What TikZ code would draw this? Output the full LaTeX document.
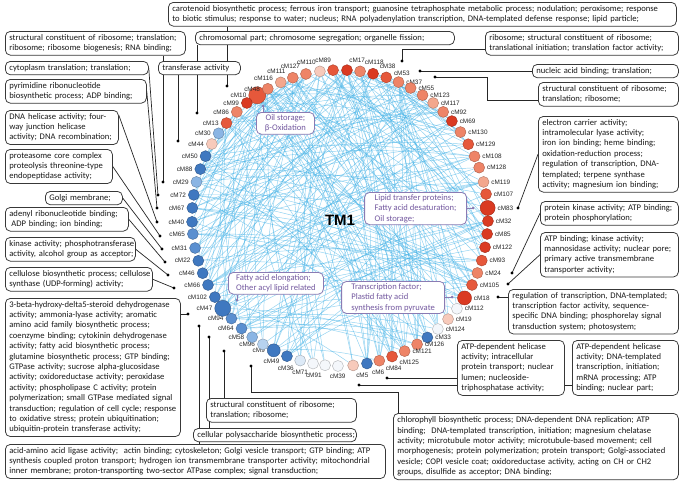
\documentclass[tikz,border=0pt]{standalone}
\usepackage{fontspec}
\setmainfont{Carlito}
\newfontfamily\lbfont{Liberation Sans}
\usetikzlibrary{calc,backgrounds}
\definecolor{R1}{HTML}{DA3A22}
\definecolor{R2}{HTML}{E6583B}
\definecolor{R3}{HTML}{EE8467}
\definecolor{R4}{HTML}{F3A78D}
\definecolor{P1}{HTML}{F7CABB}
\definecolor{W}{HTML}{F4F7FB}
\definecolor{B1}{HTML}{3F78C0}
\definecolor{B2}{HTML}{5A8FD0}
\definecolor{B3}{HTML}{8AB5E4}
\definecolor{B4}{HTML}{B6D2EF}
\definecolor{B5}{HTML}{DDEAF7}
\definecolor{edgec}{HTML}{44B3E8}
\definecolor{annb}{HTML}{8A7BB3}
\definecolor{annt}{HTML}{73589F}
\newcommand{\lns}[1]{\noindent\begin{tabular}{@{}l@{}}#1\end{tabular}}
\newcommand{\edgeset}[3]{\foreach \ea in {#1}{\foreach \eb in {#2}{%
  \pgfmathtruncatemacro\edgeok{rnd<#3?1:0}%
  \ifnum\edgeok=1 \draw[edge] (\ea) to[bend left=8] (\eb);\fi}}}
\tikzset{
  box/.style={draw=black!78, line width=0.75pt, rounded corners=5pt, fill=white,
    inner xsep=4pt, inner ysep=1.5pt, anchor=north west,
    font=\fontsize{8.6}{10.4}\selectfont, text=black!90},
  ann/.style={draw=annb, line width=0.8pt, rounded corners=5pt, fill=white,
    inner xsep=4pt, inner ysep=2pt, align=left, text=annt,
    font=\fontsize{8.6}{10.4}\selectfont},
  mod/.style={circle, inner sep=0pt, line width=0.4pt},
  lbl/.style={font=\lbfont\fontsize{6.4}{7.5}\selectfont, text=black!85, inner sep=0.8pt},
  edge/.style={draw=edgec, line width=0.45pt, opacity=0.6},
  conn/.style={draw=black!85, line width=0.7pt},
  annl/.style={draw=annb, line width=0.8pt},
}
\begin{document}
\begin{tikzpicture}[x=1pt,y=1pt]
\useasboundingbox (0,0) rectangle (683,-482);
\coordinate (C) at (340,-218);
% ---------------- module nodes on the ring
\foreach \nm/\ang/\col/\sz in {cM10/124.0/R2/17, cM48/119.2/R3/11, cM116/113.6/R4/11, cM111/108.6/R3/11, cM127/103.3/R3/11, cM110/97.8/P1/11, cM89/92.7/R2/11, cM17/87.3/R1/11, cM118/82.2/R3/11, cM38/77.1/R1/11, cM53/71.8/R2/11, cM37/66.7/R3/11, cM55/61.5/R3/11, cM123/56.1/R3/11, cM117/51.0/R4/11, cM92/45.8/R3/11, cM69/40.9/R1/11, cM130/35.5/R3/11, cM129/29.9/R2/11, cM108/24.6/R3/11, cM128/19.9/R3/11, cM119/14.1/R4/11, cM107/9.3/R2/11, cM83/3.9/R1/15, cM32/-1.2/R1/11, cM85/-6.2/R1/11, cM122/-11.4/R1/11, cM93/-16.7/R2/11, cM24/-21.8/R3/11, cM105/-26.9/R2/11, cM18/-32.7/R1/14, cM112/-37.8/W/11, cM19/-43.1/P1/11, cM124/-48.6/W/11, cM33/-53.8/B1/11, cM126/-58.6/R3/11, cM121/-64.1/R3/11, cM125/-69.4/R2/11, cM84/-74.6/R3/11, cM6/-79.5/B1/11, cM5/-84.9/P1/11, cM39/-90.8/W/11, cM91/-95.8/W/11, cM71/-100.5/W/11, cM36/-105.6/B5/11, cM49/-111.0/B1/11, cM9/-116.6/B1/13, cM96/-121.4/B4/11, cM58/-126.4/B3/11, cM64/-131.7/B2/11, cM94/-137.2/B2/11, cM47/-142.4/B1/16, cM102/-147.7/B1/11, cM66/-153.1/B1/11, cM46/-158.1/B1/11, cM22/-163.2/B1/11, cM31/-168.3/B2/11, cM65/-173.8/B2/11, cM40/-178.5/B1/11, cM67/176.1/B1/11, cM72/171.0/B1/11, cM29/165.9/B3/11, cM88/160.7/B1/11, cM50/155.3/B1/11, cM44/150.0/P1/11, cM30/145.1/B3/11, cM13/140.1/R2/11, cM86/134.2/R3/11, cM99/129.0/R1/11}{%
  \pgfmathsetmacro\lang{\ang>=90 ? 90+min(90,3.5*(\ang-90)) : (\ang>=0 ? 90-min(90,4.3*(90-\ang)) : -90+max(-90,min(90,3.5*(\ang+90))))}
  \node[mod, fill=\col, draw=\col!72!black, minimum size=\sz pt,
        label={[lbl, label distance=1.2pt]\lang:\nm}] (\nm) at ($(C)+(\ang:148)$) {};
}
\node[font=\lbfont\bfseries\fontsize{15}{15}\selectfont] (tm) at (340,-220) {TM1};
% ---------------- GO term boxes
\node[box, text width=500pt] (carot) at (168,-2) {\lns{carotenoid biosynthetic process; ferrous iron transport; guanosine tetraphosphate metabolic process; nodulation; peroxisome; response\\to biotic stimulus; response to water; nucleus; RNA polyadenylation transcription, DNA-templated defense response; lipid particle;}};
\node[box, text width=251pt] (chrom) at (195,-31) {\lns{chromosomal part; chromosome segregation; organelle fission;}};
\node[box, text width=172pt] (ribo1) at (5,-31) {\lns{structural constituent of ribosome; translation;\\ribosome; ribosome biogenesis; RNA binding;}};
\node[box, text width=185pt] (ribo2) at (485,-31) {\lns{ribosome; structural constituent of ribosome;\\translational initiation; translation factor activity;}};
\node[box, text width=135pt] (cyto) at (5,-61) {\lns{cytoplasm translation; translation;}};
\node[box, text width=74pt] (trans) at (158,-61) {\lns{transferase activity}};
\node[box, text width=138pt] (nucl) at (532,-64) {\lns{nucleic acid binding; translation;}};
\node[box, text width=132pt] (ribo3) at (538,-82) {\lns{structural constituent of ribosome;\\translation; ribosome;}};
\node[box, text width=133pt] (pyr) at (5,-79) {\lns{pyrimidine ribonucleotide\\biosynthetic process; ADP binding;}};
\node[box, text width=105pt] (dna) at (5,-110) {\lns{DNA helicase activity; four-\\way junction helicase\\activity; DNA recombination;}};
\node[box, text width=132pt] (elec) at (538,-116) {\lns{electron carrier activity;\\intramolecular lyase activity;\\iron ion binding; heme binding;\\oxidation-reduction process;\\regulation of transcription, DNA-\\templated; terpene synthase\\activity; magnesium ion binding;}};
\node[box, text width=99pt] (prot) at (5,-149) {\lns{proteasome core complex\\proteolysis threonine-type\\endopeptidase activity;}};
\node[box, text width=69pt] (golgi) at (45,-191) {\lns{Golgi membrane;}};
\node[box, text width=115pt] (aden) at (5,-207) {\lns{adenyl ribonucleotide binding;\\\hspace*{2pt}ADP binding; ion binding;}};
\node[box, text width=130pt] (pk) at (540,-201) {\lns{protein kinase activity; ATP binding;\\protein phosphorylation;}};
\node[box, text width=122pt] (kin) at (5,-237) {\lns{kinase activity; phosphotransferase\\activity, alcohol group as acceptor;}};
\node[box, text width=130pt] (atp) at (540,-232) {\lns{ATP binding; kinase activity;\\mannosidase activity; nuclear pore;\\primary active transmembrane\\transporter activity;}};
\node[box, text width=139pt] (cell) at (5,-267) {\lns{cellulose biosynthetic process; cellulose\\synthase (UDP-forming) activity;}};
\node[box, text width=162pt] (reg) at (508,-289) {\lns{regulation of transcription, DNA-templated;\\transcription factor activity, sequence-\\specific DNA binding; phosphorelay signal\\transduction system; photosystem;}};
\node[box, text width=167pt] (beta) at (5,-298) {\lns{3-beta-hydroxy-delta5-steroid dehydrogenase\\activity; ammonia-lyase activity; aromatic\\amino acid family biosynthetic process;\\coenzyme binding; cytokinin dehydrogenase\\activity; fatty acid biosynthetic process;\\glutamine biosynthetic process; GTP binding;\\GTPase activity; sucrose alpha-glucosidase\\activity; oxidoreductase activity; peroxidase\\activity; phospholipase C activity; protein\\polymerization; small GTPase mediated signal\\transduction; regulation of cell cycle; response\\to oxidative stress; protein ubiquitination;\\ubiquitin-protein transferase activity;}};
\node[box, text width=99pt] (atpd1) at (457,-340) {\lns{ATP-dependent helicase\\activity; intracellular\\protein transport; nuclear\\lumen; nucleoside-\\triphosphatase activity;}};
\node[box, text width=98pt] (atpd2) at (572,-340) {\lns{ATP-dependent helicase\\activity; DNA-templated\\transcription, initiation;\\mRNA processing; ATP\\binding; nuclear part;}};
\node[box, text width=142pt] (ribo4) at (206,-398) {\lns{structural constituent of ribosome;\\translation; ribosome;}};
\node[box, text width=155pt] (cpoly) at (193,-428) {\lns{cellular polysaccharide biosynthetic process;}};
\node[box, text width=277pt, inner ysep=2pt] (chl) at (393,-413) {\lns{chlorophyll biosynthetic process; DNA-dependent DNA replication; ATP\\binding;\ \ DNA-templated transcription, initiation; magnesium chelatase\\activity; microtubule motor activity; microtubule-based movement; cell\\morphogenesis; protein polymerization; protein transport; Golgi-associated\\vesicle; COPI vesicle coat; oxidoreductase activity, acting on CH or CH2\\groups, disulfide as acceptor; DNA binding;}};
\node[box, text width=372pt] (acid) at (5,-444) {\lns{acid-amino acid ligase activity;\ \ actin binding; cytoskeleton; Golgi vesicle transport; GTP binding; ATP\\synthesis coupled proton transport; hydrogen ion transmembrane transporter activity; mitochondrial\\inner membrane; proton-transporting two-sector ATPase complex; signal transduction;}};
% ---------------- lipid annotations
\node[ann, align=center, anchor=north west, minimum width=58pt] (aoil) at (256,-112) {Oil storage;\\β-Oxidation};
\node[ann, anchor=north east, minimum width=102pt] (alip) at (467,-192) {Lipid transfer proteins;\\Fatty acid desaturation;\\Oil storage;};
\node[ann, anchor=north east, minimum width=103pt] (atf) at (445,-281) {Transcription factor;\\Plastid fatty acid\\synthesis from pyruvate};
\node[ann, anchor=north west, minimum width=95pt] (afat) at (228,-272) {Fatty acid elongation;\\Other acyl lipid related};
\coordinate (P10) at (263,-106);
\coordinate (P83) at (473,-208);
\coordinate (P18) at (452,-297);
\coordinate (P47) at (237,-300);
\draw[annl] (aoil.north -| P10) -- (P10);
\draw[annl] (alip.east |- P83) -- (P83);
\draw[annl] (atf.east |- P18) -- (P18);
\draw[annl] (afat.south -| P47) -- (P47);
\foreach \pp in {P10,P83,P18,P47} \fill[annb] (\pp) circle (1.5);
% ---------------- connector end points
\coordinate (D86) at (197,-113);
\coordinate (D10) at (227,-86);
\coordinate (D44) at (178,-141);
\coordinate (D29) at (163,-182);
\coordinate (D72) at (158,-195);
\coordinate (D67) at (157,-208);
\coordinate (D40) at (157,-222);
\coordinate (D65) at (160,-236);
\coordinate (D31) at (162,-249);
\coordinate (D22) at (165,-262);
\coordinate (D46) at (168,-275);
\coordinate (D66) at (174,-288);
\coordinate (D47) at (188,-314);
\coordinate (D94) at (199,-326);
\coordinate (D64) at (209,-337);
\coordinate (D58) at (224,-351);
\coordinate (D9) at (251,-366);
\coordinate (K9) at (398,-392);
\coordinate (D5) at (359,-385);
\coordinate (D84) at (387,-378);
\coordinate (D18) at (498,-297);
\coordinate (D105) at (508,-284);
\coordinate (D24) at (512,-273);
\coordinate (D83) at (518,-208);
\coordinate (D37) at (435,-77);
\coordinate (K37) at (487,-77);
\coordinate (K37b) at (487,-100);
\coordinate (D53) at (420,-71);
\coordinate (D38) at (402,-61);
\coordinate (K38) at (402,-49);
\foreach \pp in {D86,D10,D44,D29,D72,D67,D40,D65,D31,D22,D46,D66,D47,D94,D64,D58,D9,D5,D84,D18,D105,D24,D83,D37,D53,D38}
  \fill[black] (\pp) circle (1.6);
% ---------------- background: edges and connectors
\begin{scope}[on background layer]
\fill[white] (0,0) rectangle (683,-482);
\pgfmathsetseed{4242}
\edgeset{cM50,cM88,cM29,cM72,cM67,cM40,cM65,cM31,cM22,cM46,cM66,cM102,cM47,cM94,cM64,cM58,cM96,cM9,cM49}{cM55,cM123,cM117,cM92,cM69,cM130,cM129,cM108,cM128,cM119,cM107,cM83,cM32,cM85,cM122,cM93,cM24,cM105,cM18}{0.2}
\edgeset{cM10,cM99,cM86,cM13,cM48,cM116,cM111,cM127,cM110,cM89,cM17,cM118,cM38,cM53,cM37}{cM126,cM121,cM125,cM84,cM6,cM5,cM33,cM19,cM112,cM124}{0.3}
\edgeset{cM50,cM88,cM29,cM72,cM67,cM40,cM65,cM31,cM22,cM46,cM66,cM102,cM47,cM94,cM64,cM58,cM96,cM9,cM49}{cM10,cM99,cM86,cM13,cM48,cM116,cM111,cM127,cM110,cM89,cM17,cM118,cM38,cM53,cM37}{0.15}
\edgeset{cM10,cM99,cM86,cM13,cM48,cM116,cM111,cM127,cM110,cM89,cM17,cM118,cM38,cM53,cM37}{cM55,cM123,cM117,cM92,cM69,cM130,cM129,cM108,cM128,cM119,cM107,cM83,cM32,cM85,cM122,cM93,cM24,cM105,cM18}{0.12}
\edgeset{cM50,cM88,cM29,cM72,cM67,cM40,cM65,cM31,cM22,cM46,cM66,cM102,cM47,cM94,cM64,cM58,cM96,cM9,cM49}{cM126,cM121,cM125,cM84,cM6,cM5,cM33,cM19,cM112,cM124}{0.1}
\edgeset{cM36,cM71,cM91,cM39}{cM10,cM99,cM86,cM13,cM48,cM116,cM111,cM127,cM110,cM89,cM17,cM118,cM38,cM53,cM37}{0.12}
\draw[conn] (D10 |- carot.south) -- (D10);
\draw[conn] (D86 |- chrom.south) -- (D86);
\draw[conn] (D44 |- trans.south) -- (D44);
\draw[conn] (D29 |- ribo1.south) -- (D29);
\draw[conn] (cyto.east) -- (D72);
\draw[conn] (pyr.east) -- (D67);
\draw[conn] ($(dna.north east)+(0,-5)$) -- (D40);
\draw[conn] (prot.east) -- (D65);
\draw[conn] (golgi.east) -- (D31);
\draw[conn] (aden.east) -- (D22);
\draw[conn] (kin.east) -- (D46);
\draw[conn] (cell.east) -- (D66);
\draw[conn] (beta.east |- D47) -- (D47);
\draw[conn] (D94 |- acid.north) -- (D94);
\draw[conn] (D64 |- cpoly.north) -- (D64);
\draw[conn] (D58 |- ribo4.north) -- (D58);
\draw[conn] (D9) |- (K9) -- (K9 |- chl.north);
\draw[conn] (D84) -- (D84 -| atpd1.west);
\draw[conn] (D5) -- (D5 -| atpd2.west);
\draw[conn] (D18) -- (D18 -| reg.west);
\draw[conn] (D105) -- (atp.west);
\draw[conn] (D24) -- (pk.west);
\draw[conn] (D83) -- (elec.west);
\draw[conn] (D37) -- (K37) -- (K37b) -- (K37b -| ribo3.west);
\draw[conn] (D53) -- (D53 -| nucl.west);
\draw[conn] (D38) -- (K38) -- (K38 -| ribo2.west);
\end{scope}
\end{tikzpicture}
\end{document}
